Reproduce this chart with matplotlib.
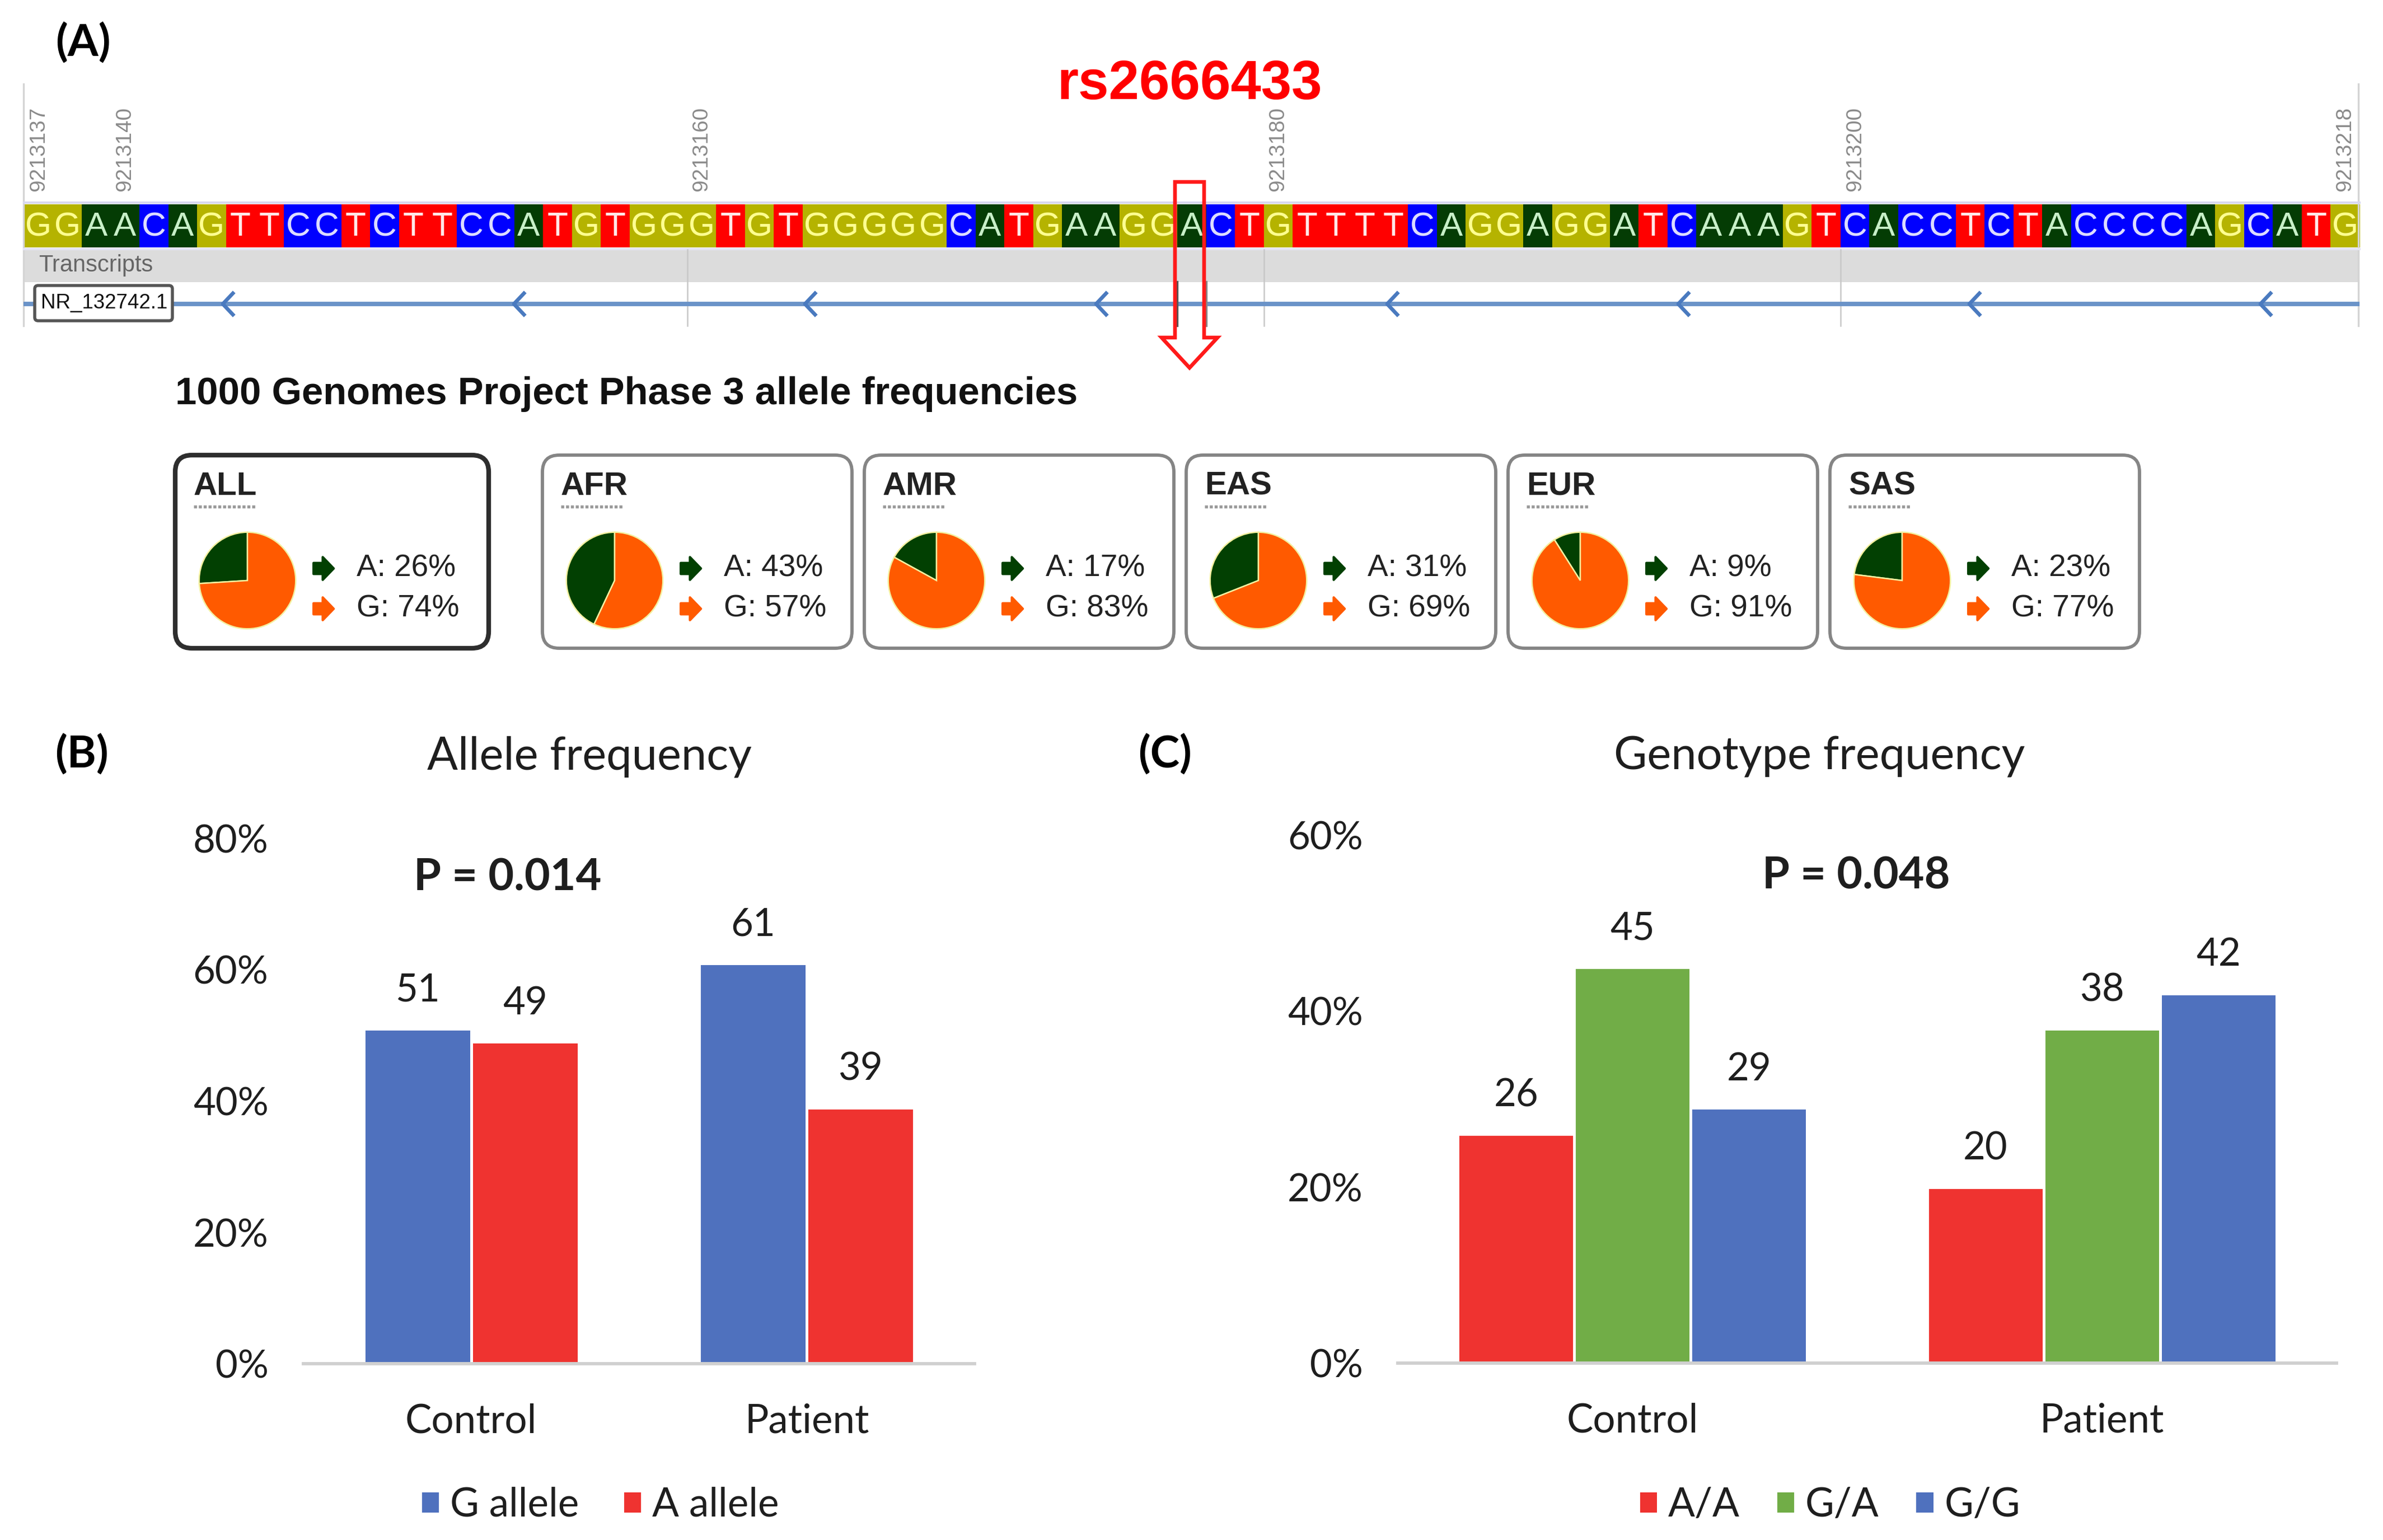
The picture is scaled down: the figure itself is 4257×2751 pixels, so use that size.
import matplotlib
matplotlib.use('Agg')
import matplotlib.pyplot as plt
from matplotlib.patches import Rectangle, FancyBboxPatch, Polygon
from matplotlib.path import Path
import numpy as np

# ------------------------------------------------------------------ data
sequence = "GGAACAGTTCCTCTTCCATGTGGGTGTGGGGGCATGAAGGACTGTTTTCAGGAGGATCAAAGTCACCTCTACCCCAGCATG"
seq_start = 9213137
position_labels = [9213137, 9213140, 9213160, 9213180, 9213200, 9213218]
snp_id = "rs2666433"
snp_position = 9213177
transcript_id = "NR_132742.1"

populations = ['ALL', 'AFR', 'AMR', 'EAS', 'EUR', 'SAS']
pop_freq_A = [26, 43, 17, 31, 9, 23]
pop_freq_G = [74, 57, 83, 69, 91, 77]

groups = ['Control', 'Patient']
allele_G = [51, 61]
allele_A = [49, 39]
allele_p = "P = 0.014"

geno_AA = [26, 20]
geno_GA = [45, 38]
geno_GG = [29, 42]
geno_p = "P = 0.048"

# ------------------------------------------------------------------ style
W, H, DPI = 4257, 2751, 300
plt.rcParams['font.family'] = ['Lato', 'DejaVu Sans']
AFONT = ['Liberation Sans', 'DejaVu Sans']

base_fill = {'G': '#b5b300', 'A': '#043c04', 'C': '#0000ff', 'T': '#ff0000'}
base_text = {'G': '#ffff90', 'A': '#c8f0c8', 'C': '#dcdcff', 'T': '#ffe8e8'}
c_green, c_orange = '#024002', '#ff5a00'
c_blue, c_red, c_lgreen = '#4f71be', '#ef3330', '#71ad47'
txt = '#1e1e1e'

fig = plt.figure(figsize=(W / DPI, H / DPI), dpi=DPI)
ov = fig.add_axes([0, 0, 1, 1])
ov.set_xlim(0, W)
ov.set_ylim(H, 0)
ov.axis('off')

# ------------------------------------------------------------------ panel A
ov.text(148, 77, '(A)', fontsize=19, fontweight='bold', ha='center', va='center', color='black')

seq_left, seq_right = 43, 4215
bw_px = (seq_right - seq_left) / len(sequence)
bar_top, bar_bot = 365, 442

# frame lines of the viewer
ov.plot([42, 42], [150, 582], color='#d4d4d4', lw=0.8)
ov.plot([4213, 4213], [150, 582], color='#d4d4d4', lw=0.8)

# bases
for i, b in enumerate(sequence):
    x0 = seq_left + i * bw_px
    ov.add_patch(Rectangle((x0, bar_top), bw_px + 0.6, bar_bot - bar_top,
                           facecolor=base_fill[b], edgecolor='none'))
    ov.text(x0 + bw_px / 2, (bar_top + bar_bot) / 2 + 2, b, color=base_text[b],
            fontsize=14.5, ha='center', va='center', family=AFONT)
ov.plot([seq_left, seq_right], [bar_top - 3, bar_top - 3], color='#d8d8f0', lw=1.0)
ov.plot([seq_left, seq_right], [bar_bot + 3, bar_bot + 3], color='#e4e4f4', lw=1.0)

# position labels
for p in position_labels:
    x = seq_left + (p - seq_start + 0.5) * bw_px
    x = min(x, seq_right - 26)
    ov.text(x, 342, str(p), rotation=90, ha='center', va='bottom', color='#8a8a8a',
            fontsize=9.3, family=AFONT)

# transcript band
ov.add_patch(Rectangle((seq_left, bar_bot + 4), seq_right - seq_left, 58,
                       facecolor='#dcdcdc', edgecolor='none'))
ov.text(69, 474, 'Transcripts', color='#666666', fontsize=10, va='center', ha='left', family=AFONT)

for p in position_labels[2:5]:
    x = seq_left + (p - seq_start) * bw_px
    ov.plot([x, x], [446, 582], color='#c8c8c8', lw=0.6)

# transcript line with direction chevrons
ov.plot([42, seq_right], [543, 543], color='#6a93c8', lw=1.9, solid_capstyle='butt')
for k in range(8):
    xc = 398 + k * 520
    ov.plot([xc + 18, xc, xc + 18], [524, 543, 562], color='#4a7abf', lw=1.6)
ov.add_patch(FancyBboxPatch((62, 510), 246, 63, boxstyle='round,pad=0,rounding_size=6',
                            facecolor='white', edgecolor='#555555', lw=1.3, zorder=3))
ov.text(186, 542, transcript_id, fontsize=8.8, ha='center', va='center', color='#111111',
        family=AFONT, zorder=4)

# SNP marker
snp_i = snp_position - seq_start
xl = seq_left + snp_i * bw_px
xr = xl + bw_px
ov.plot([xl, xl], [503, 582], color='#555555', lw=0.8)
ov.plot([xr, xr], [503, 582], color='#888888', lw=0.8)
c = (xl + xr) / 2 - 4
arrow = Polygon([(c - 26, 325), (c + 26, 325), (c + 26, 603), (c + 50, 603),
                 (c, 657), (c - 50, 603), (c - 26, 603)], closed=True, fill=False,
                edgecolor='#ff1a1a', lw=1.6, joinstyle='miter', zorder=5)
ov.add_patch(arrow)
ov.text(c, 152, snp_id, color='#ff0000', fontsize=23.5, fontweight='bold', ha='center',
        va='center', family=AFONT)

# 1000 Genomes pies
ov.text(313, 704, '1000 Genomes Project Phase 3 allele frequencies', fontsize=16.5,
        fontweight='bold', ha='left', va='center', color='#111111', family=AFONT)

arrow_marker = Path([(-0.5, -0.3), (0.0, -0.3), (0.0, -0.62), (0.6, 0.0), (0.0, 0.62),
                     (0.0, 0.3), (-0.5, 0.3), (-0.5, -0.3)],
                    [Path.MOVETO] + [Path.LINETO] * 6 + [Path.CLOSEPOLY])

box_lefts = [313] + [969 + 575 * k for k in range(5)]
box_top, box_h = 813, 345
for i, pop in enumerate(populations):
    bx = box_lefts[i]
    bwid = 560 if i == 0 else 553
    ec, lw = ('#2e2e2e', 2.0) if i == 0 else ('#858585', 1.4)
    ov.add_patch(FancyBboxPatch((bx, box_top), bwid, box_h,
                                boxstyle='round,pad=0,rounding_size=30',
                                facecolor='white', edgecolor=ec, lw=lw))
    ov.text(bx + 33, 869, pop, fontsize=14, fontweight='bold', ha='left', va='center',
            color='#222222', family=AFONT)
    ov.plot([bx + 33, bx + 33 + 112], [905, 905], color='#9a9a9a', lw=1.3, ls=(0, (1, 0.6)))
    ov.scatter([bx + 263], [1015], marker=arrow_marker, s=95, color=c_green, zorder=4)
    ov.scatter([bx + 263], [1087], marker=arrow_marker, s=95, color=c_orange, zorder=4)
    ov.text(bx + 324, 1016, f"A: {pop_freq_A[i]}%", fontsize=13.2, ha='left', va='center',
            color='#222222', family=AFONT)
    ov.text(bx + 324, 1088, f"G: {pop_freq_G[i]}%", fontsize=13.2, ha='left', va='center',
            color='#222222', family=AFONT)
    cx, cy, r = bx + 129, 1037, 88
    axp = fig.add_axes([(cx - r) / W, 1 - (cy + r) / H, 2 * r / W, 2 * r / H])
    axp.pie([pop_freq_A[i], pop_freq_G[i]], colors=[c_green, c_orange], startangle=90,
            counterclock=True, wedgeprops=dict(edgecolor='#f4f0a0', linewidth=0.6))
    axp.set_xlim(-1.02, 1.02)
    axp.set_ylim(-1.02, 1.02)

# ------------------------------------------------------------------ panel B / C helpers
def style_axes(ax, ymax, step):
    for s in ['top', 'right', 'left']:
        ax.spines[s].set_visible(False)
    ax.spines['bottom'].set_color('#d0d0d0')
    ax.spines['bottom'].set_linewidth(1.4)
    ax.set_xlim(-0.5, 1.5)
    ax.set_ylim(0, ymax)
    ticks = list(range(0, ymax + 1, step))
    ax.set_yticks(ticks)
    ax.set_yticklabels([f"{t}%" for t in ticks])
    ax.set_xticks(range(len(groups)))
    ax.set_xticklabels(groups)
    ax.tick_params(axis='y', length=0, pad=15, labelsize=16.5, labelcolor=txt)
    ax.tick_params(axis='x', length=0, pad=17, labelsize=17, labelcolor=txt)
    ax.patch.set_alpha(0)

x = np.arange(len(groups))

# panel B
ov.text(146, 1348, '(B)', fontsize=19, fontweight='bold', ha='center', va='center', color='black')
ov.text(1053, 1352, 'Allele frequency', fontsize=19.5, ha='center', va='center', color=txt)
axB = fig.add_axes([542 / W, 1 - 2436 / H, 1199 / W, 938 / H])
style_axes(axB, 80, 20)
bwB = 0.32
b1 = axB.bar(x - bwB / 2, allele_G, bwB, color=c_blue, edgecolor='white', lw=1.2, label='G allele')
b2 = axB.bar(x + bwB / 2, allele_A, bwB, color=c_red, edgecolor='white', lw=1.2, label='A allele')
for cont in (b1, b2):
    axB.bar_label(cont, padding=9, fontsize=16.5, color=txt)
axB.text(0.108, 74.0, allele_p, fontsize=19, fontweight='bold', ha='center', va='center', color=txt)
axB.legend(loc='center', bbox_to_anchor=(1071 / W, 1 - 2688 / H), bbox_transform=fig.transFigure,
           ncol=2, frameon=False, handlelength=0.5, handleheight=0.5, handletextpad=0.25,
           columnspacing=1.1, fontsize=17, labelcolor=txt)

# panel C
ov.text(2081, 1348, '(C)', fontsize=19, fontweight='bold', ha='center', va='center', color='black')
ov.text(3250, 1352, 'Genotype frequency', fontsize=19.5, ha='center', va='center', color=txt)
axC = fig.add_axes([2497 / W, 1 - 2435 / H, 1677 / W, 943 / H])
style_axes(axC, 60, 20)
bwC = 0.248
c1 = axC.bar(x - bwC, geno_AA, bwC, color=c_red, edgecolor='white', lw=1.2, label='A/A')
c2 = axC.bar(x, geno_GA, bwC, color=c_lgreen, edgecolor='white', lw=1.2, label='G/A')
c3 = axC.bar(x + bwC, geno_GG, bwC, color=c_blue, edgecolor='white', lw=1.2, label='G/G')
for cont in (c1, c2, c3):
    axC.bar_label(cont, padding=9, fontsize=16.5, color=txt)
axC.text(0.477, 55.3, geno_p, fontsize=19, fontweight='bold', ha='center', va='center', color=txt)
axC.legend(loc='center', bbox_to_anchor=(3268 / W, 1 - 2688 / H), bbox_transform=fig.transFigure,
           ncol=3, frameon=False, handlelength=0.5, handleheight=0.5, handletextpad=0.25,
           columnspacing=0.9, fontsize=17, labelcolor=txt)

fig.savefig('out.png', dpi=DPI, facecolor='white')
